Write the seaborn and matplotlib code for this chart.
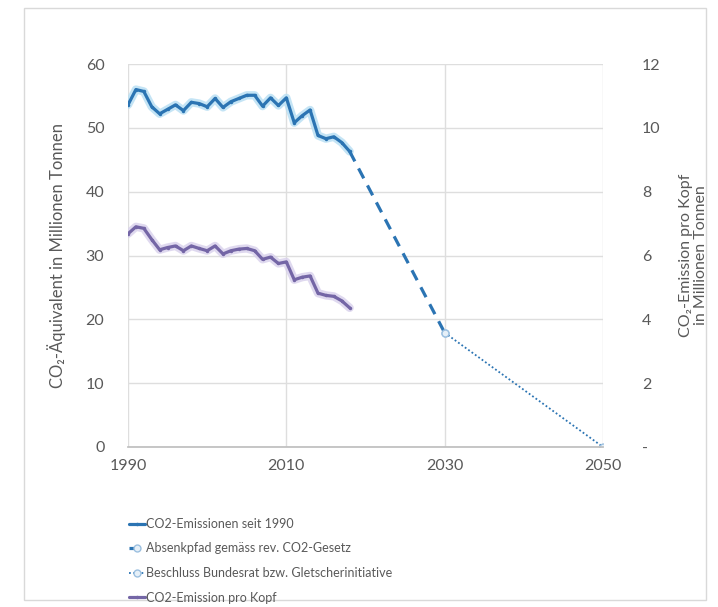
import matplotlib
matplotlib.use("Agg")
import matplotlib.pyplot as plt
from matplotlib.patches import Rectangle
import seaborn as sns
import pandas as pd

sns.set_theme(style="white")
plt.rcParams["font.family"] = ["Lato", "DejaVu Sans"]

# Annual CO2 emissions since 1990 (Mt CO2-eq)
years = list(range(1990, 2019))
emissions = [53.6, 56.0, 55.7, 53.3, 52.2, 52.9, 53.6, 52.7, 54.0, 53.8,
             53.3, 54.6, 53.2, 54.1, 54.6, 55.1, 55.1, 53.4, 54.7, 53.5,
             54.7, 50.8, 51.9, 52.8, 48.8, 48.3, 48.6, 47.7, 46.3]
# Per-capita emissions (right axis)
per_capita = [6.68, 6.90, 6.85, 6.50, 6.18, 6.25, 6.30, 6.15, 6.30, 6.22,
              6.15, 6.30, 6.05, 6.15, 6.20, 6.22, 6.15, 5.88, 5.95, 5.75,
              5.80, 5.24, 5.32, 5.36, 4.82, 4.75, 4.72, 4.58, 4.36]
# Reduction paths
path_years = [2018, 2030]
path_values = [46.3, 17.9]
decision_years = [2030, 2050]
decision_values = [17.9, 0.0]

labels = ["CO2-Emissionen seit 1990",
          "Absenkpfad gemäss rev. CO2-Gesetz",
          "Beschluss Bundesrat bzw. Gletscherinitiative",
          "CO2-Emission pro Kopf"]

x_ticks = [1990, 2010, 2030, 2050]
left_ticks = [0, 10, 20, 30, 40, 50, 60]
right_ticks = [0, 2, 4, 6, 8, 10, 12]
right_tick_labels = ["-", "2", "4", "6", "8", "10", "12"]

blue = "#2b74b3"
purple = "#7466a6"
text_gray = "#595959"
grid_gray = "#dedede"

df_main = pd.DataFrame({"Jahr": years, "Wert": emissions})
df_path = pd.DataFrame({"Jahr": path_years, "Wert": path_values})
df_dec = pd.DataFrame({"Jahr": decision_years, "Wert": decision_values})
df_pc = pd.DataFrame({"Jahr": years, "Wert": per_capita})

fig = plt.figure(figsize=(7.18, 6.07), dpi=100)
fig.patch.set_facecolor("white")
fig.patches.append(Rectangle((24 / 718, 1 - 600 / 607), (706 - 24) / 718, (600 - 8) / 607,
                             transform=fig.transFigure, fill=False,
                             edgecolor="#d9d9d9", linewidth=1.0))

ax = fig.add_axes([128 / 718, 1 - 447 / 607, (603 - 128) / 718, (447 - 64) / 607])
ax2 = ax.twinx()

# soft halo beneath the measured series
sns.lineplot(data=df_main, x="Jahr", y="Wert", ax=ax, color="#b6def3", linewidth=6,
             alpha=0.8, legend=False)
sns.lineplot(data=df_pc, x="Jahr", y="Wert", ax=ax2, color="#d8d0ec", linewidth=6,
             alpha=0.8, legend=False)

sns.lineplot(data=df_main, x="Jahr", y="Wert", ax=ax, color=blue, linewidth=2.3,
             marker="o", markersize=2.5, markeredgewidth=0, label=labels[0])
sns.lineplot(data=df_path, x="Jahr", y="Wert", ax=ax, color=blue, linewidth=2.3,
             linestyle=(0, (3.5, 2.5)), marker="o", markersize=5, markevery=[1],
             markerfacecolor="#e6f0f8", markeredgecolor="#9cc0e0", markeredgewidth=1,
             label=labels[1])
sns.lineplot(data=df_dec, x="Jahr", y="Wert", ax=ax, color=blue, linewidth=1.3,
             linestyle=(0, (1, 1.3)), marker="o", markersize=5,
             markerfacecolor="#e6f0f8", markeredgecolor="#9cc0e0", markeredgewidth=1,
             label=labels[2])
sns.lineplot(data=df_pc, x="Jahr", y="Wert", ax=ax2, color=purple, linewidth=2.3,
             marker="o", markersize=2.5, markeredgewidth=0, label=labels[3])

ax.set_xlim(1990, 2050)
ax.set_ylim(0, 60)
ax2.set_ylim(0, 12)
ax.set_xticks(x_ticks)
ax.set_yticks(left_ticks)
ax2.set_yticks(right_ticks)
ax2.set_yticklabels(right_tick_labels)

ax.grid(True, color=grid_gray, linewidth=1)
ax.set_axisbelow(True)
for a in (ax, ax2):
    for s in a.spines.values():
        s.set_visible(False)
ax.spines["bottom"].set_visible(True)
ax.spines["bottom"].set_color("#bfbfbf")

ax.tick_params(axis="x", length=0, labelsize=11.5, labelcolor=text_gray, pad=9)
ax.tick_params(axis="y", length=0, labelsize=11.5, labelcolor=text_gray, pad=17)
ax2.tick_params(axis="y", length=0, labelsize=11.5, labelcolor=text_gray, pad=28)

ax.set_xlabel("")
ax.set_ylabel("CO₂-Äquivalent in Millionen Tonnen", fontsize=12, color=text_gray, labelpad=14)
ax2.set_ylabel("CO₂-Emission pro Kopf\nin Millionen Tonnen", fontsize=11.5, color=text_gray,
               rotation=90, labelpad=13, linespacing=1.15)

h1, l1 = ax.get_legend_handles_labels()
h2, l2 = ax2.get_legend_handles_labels()
ax.get_legend().remove()
ax2.get_legend().remove()
fig.legend(h1 + h2, l1 + l2, loc="upper left", bbox_to_anchor=(124 / 718, 1 - 513 / 607),
           frameon=False, fontsize=9, labelcolor=text_gray, handlelength=1.3,
           handletextpad=0.1, labelspacing=1.0, borderaxespad=0)

fig.savefig("out.png", dpi=100)
